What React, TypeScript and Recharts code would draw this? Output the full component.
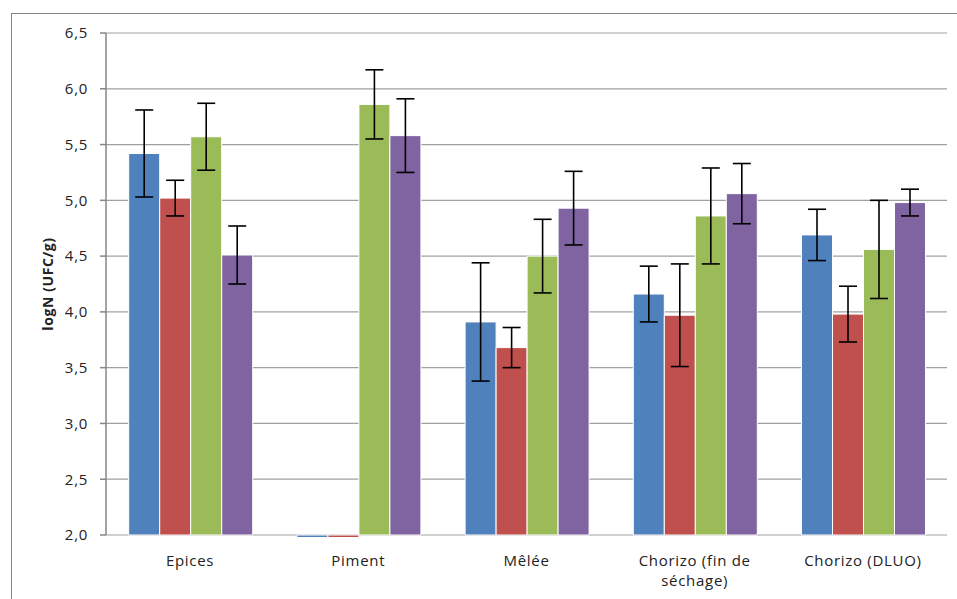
import { Bar, BarChart, CartesianGrid, ErrorBar, Text, XAxis, YAxis } from 'recharts';

const categories = ['Epices', 'Piment', 'Mêlée', 'Chorizo (fin de séchage)', 'Chorizo (DLUO)'];

const blueValues = [5.42, 2.0, 3.91, 4.16, 4.69];
const blueErrors = [0.39, null, 0.53, 0.25, 0.23];
const redValues = [5.02, 2.0, 3.68, 3.97, 3.98];
const redErrors = [0.16, null, 0.18, 0.46, 0.25];
const greenValues = [5.57, 5.86, 4.5, 4.86, 4.56];
const greenErrors = [0.3, 0.31, 0.33, 0.43, 0.44];
const purpleValues = [4.51, 5.58, 4.93, 5.06, 4.98];
const purpleErrors = [0.26, 0.33, 0.33, 0.27, 0.12];

const yTicks = [2, 2.5, 3, 3.5, 4, 4.5, 5, 5.5, 6, 6.5];
const boundaryTicks = [0, 1, 2, 3, 4, 5];

const chartData = categories.map((name, i) => ({
  name,
  blue: blueValues[i],
  blueErr: blueErrors[i],
  red: redValues[i],
  redErr: redErrors[i],
  green: greenValues[i],
  greenErr: greenErrors[i],
  purple: purpleValues[i],
  purpleErr: purpleErrors[i]
}));

const FONT = "'Open Sans', sans-serif";
const TEXT_COLOR = '#222222';
const AXIS_COLOR = '#868686';

const formatTick = (v: number) => v.toFixed(1).replace('.', ',');

function CategoryTick({ x, y, payload }: any) {
  return (
    <Text
      x={x}
      y={y}
      width={138}
      textAnchor='middle'
      verticalAnchor='start'
      lineHeight={20}
      fill={TEXT_COLOR}
      style={{ fontFamily: FONT, fontSize: 15, letterSpacing: 0.7 }}
    >
      {payload.value}
    </Text>
  );
}

function YTitle({ viewBox }: any) {
  const cx = viewBox.x + 47;
  const cy = viewBox.y + viewBox.height / 2;
  return (
    <text
      x={cx}
      y={cy}
      transform={`rotate(-90 ${cx} ${cy})`}
      textAnchor='middle'
      dominantBaseline='central'
      fill={TEXT_COLOR}
      style={{ fontFamily: FONT, fontSize: 14, fontWeight: 700, letterSpacing: 0.6 }}
    >
      logN (UFC/g)
    </text>
  );
}

const series = [
  { key: 'blue', color: '#4F81BD' },
  { key: 'red', color: '#C0504D' },
  { key: 'green', color: '#9BBB59' },
  { key: 'purple', color: '#8064A2' }
];

function App() {
  return (
    <div style={{ position: 'absolute', left: 0, top: 0, width: 957, height: 599, background: '#fff', overflow: 'hidden' }}>
      <div
        style={{
          position: 'absolute',
          left: 11,
          top: 13,
          width: 980,
          height: 620,
          border: `1px solid ${AXIS_COLOR}`
        }}
      />
      <div style={{ position: 'absolute', left: 0, top: 0 }}>
        <BarChart
          width={957}
          height={599}
          data={chartData}
          margin={{ top: 33, right: 10, bottom: 4, left: 0 }}
          barCategoryGap='13.5%'
          barGap={0}
        >
          <CartesianGrid horizontal vertical={false} stroke='#a0a0a0' strokeWidth={1.2} />
          <XAxis
            xAxisId='frame'
            type='number'
            domain={[0, 5]}
            ticks={boundaryTicks}
            tick={false}
            tickSize={5}
            height={0}
            stroke={AXIS_COLOR}
            strokeWidth={1.5}
          />
          <XAxis
            xAxisId='cat'
            dataKey='name'
            axisLine={false}
            tickLine={false}
            tickSize={6}
            tickMargin={14}
            height={60}
            interval={0}
            tick={<CategoryTick />}
          />
          <YAxis
            width={106}
            domain={[2, 6.5]}
            ticks={yTicks}
            tickFormatter={formatTick}
            tickSize={6}
            tickMargin={12}
            stroke={AXIS_COLOR}
            strokeWidth={1.5}
            tick={{ fill: TEXT_COLOR, fontFamily: FONT, fontSize: 15, letterSpacing: 0.7 }}
            label={{ content: <YTitle /> }}
          />
          {series.map(s => (
            <Bar
              key={s.key}
              xAxisId='cat'
              dataKey={s.key}
              fill={s.color}
              stroke='#ffffff'
              strokeWidth={1}
              minPointSize={-2.5}
              isAnimationActive={false}
            >
              <ErrorBar dataKey={`${s.key}Err`} width={9} stroke='#000' strokeWidth={1.6} />
            </Bar>
          ))}
        </BarChart>
      </div>
    </div>
  );
}

export default App;
